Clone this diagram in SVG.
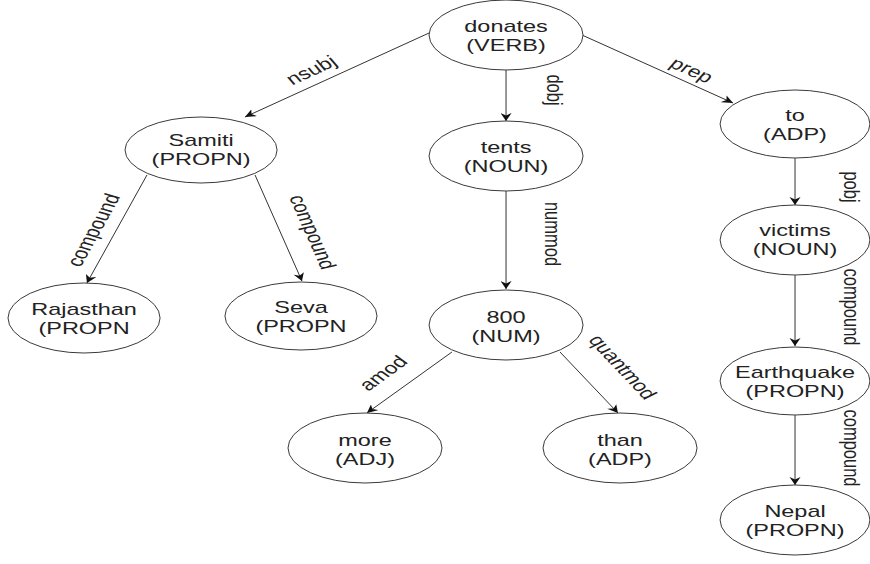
<svg xmlns="http://www.w3.org/2000/svg" width="870" height="564" viewBox="0 0 870 564">
<style>
.node ellipse{fill:#ffffff;stroke:#3a3a3a;stroke-width:1;vector-effect:non-scaling-stroke}
.node text{font-family:"Liberation Sans",Arial,sans-serif;font-size:17px;fill:#222;text-anchor:middle}
.edge line{stroke:#333;stroke-width:1;vector-effect:non-scaling-stroke;marker-end:url(#arr)}
.lbl{font-family:"Liberation Sans",Arial,sans-serif;font-size:16.5px;fill:#222;text-anchor:middle;dominant-baseline:central}
</style>
<defs>
<marker id="arr" viewBox="0 0 10 10" refX="10" refY="5" markerWidth="8" markerHeight="8" markerUnits="userSpaceOnUse" orient="auto">
<path d="M0,0 L10,5 L0,10 L3,5 z" fill="#111"/>
</marker>
</defs>
<rect width="870" height="564" fill="#ffffff"/>
<g transform="scale(1.38,1)">
<g id="connectors" class="edge">
<line x1="310.9" y1="33" x2="177.5" y2="117"/>
<line x1="366.7" y1="70" x2="366.7" y2="121"/>
<line x1="421.7" y1="35" x2="531.2" y2="103"/>
<line x1="106.5" y1="175" x2="63" y2="283"/>
<line x1="184.8" y1="175" x2="218.8" y2="281"/>
<line x1="366.7" y1="191" x2="366.7" y2="289"/>
<line x1="327.5" y1="352" x2="265.9" y2="413"/>
<line x1="405.8" y1="352" x2="447.8" y2="413"/>
<line x1="576.1" y1="158" x2="576.1" y2="205"/>
<line x1="576.1" y1="275" x2="576.1" y2="346"/>
<line x1="576.1" y1="415" x2="576.1" y2="485"/>
</g>
<g id="edge-labels">
<text class="lbl" transform="translate(225.4,70) rotate(-32.2)">nsubj</text>
<text class="lbl" transform="translate(402.2,90) rotate(90)">dobj</text>
<text class="lbl" transform="translate(501.4,70) rotate(31.8)">prep</text>
<text class="lbl" transform="translate(67.4,230) rotate(-67.9)">compound</text>
<text class="lbl" transform="translate(226.8,232) rotate(72)">compound</text>
<text class="lbl" transform="translate(400.7,234) rotate(90)">nummod</text>
<text class="lbl" transform="translate(277.5,373) rotate(-44.7)">amod</text>
<text class="lbl" transform="translate(451.4,367) rotate(55.5)">quantmod</text>
<text class="lbl" transform="translate(617.4,187) rotate(90)">pobj</text>
<text class="lbl" transform="translate(617.4,307) rotate(90)">compound</text>
<text class="lbl" transform="translate(617.4,448) rotate(90)">compound</text>
</g>
<g id="n-donates" class="node"><ellipse cx="366.7" cy="35" rx="55.8" ry="35"/><text x="366.7" y="32">donates</text><text x="366.7" y="51">(VERB)</text></g>
<g id="n-tents" class="node"><ellipse cx="366.7" cy="156" rx="55.8" ry="35"/><text x="366.7" y="153">tents</text><text x="366.7" y="172">(NOUN)</text></g>
<g id="n-samiti" class="node"><ellipse cx="145.7" cy="150" rx="55.1" ry="33"/><text x="145.7" y="146">Samiti</text><text x="145.7" y="165">(PROPN)</text></g>
<g id="n-rajasthan" class="node"><ellipse cx="60.9" cy="318" rx="55.1" ry="35"/><text x="60.9" y="315">Rajasthan</text><text x="60.9" y="334">(PROPN</text></g>
<g id="n-seva" class="node"><ellipse cx="218.1" cy="316" rx="55.1" ry="34"/><text x="218.1" y="313">Seva</text><text x="218.1" y="332">(PROPN</text></g>
<g id="n-800" class="node"><ellipse cx="366.7" cy="325" rx="55.8" ry="35"/><text x="366.7" y="323">800</text><text x="366.7" y="342">(NUM)</text></g>
<g id="n-more" class="node"><ellipse cx="264.5" cy="448" rx="55.8" ry="35"/><text x="264.5" y="446">more</text><text x="264.5" y="465">(ADJ)</text></g>
<g id="n-than" class="node"><ellipse cx="449.3" cy="448" rx="55.8" ry="35"/><text x="449.3" y="446">than</text><text x="449.3" y="465">(ADP)</text></g>
<g id="n-to" class="node"><ellipse cx="576.1" cy="124" rx="54.3" ry="34"/><text x="576.1" y="121">to</text><text x="576.1" y="140">(ADP)</text></g>
<g id="n-victims" class="node"><ellipse cx="576.1" cy="240" rx="54.3" ry="35"/><text x="576.1" y="236">victims</text><text x="576.1" y="255">(NOUN)</text></g>
<g id="n-earthquake" class="node"><ellipse cx="576.1" cy="381" rx="54.3" ry="34"/><text x="576.1" y="378">Earthquake</text><text x="576.1" y="397">(PROPN)</text></g>
<g id="n-nepal" class="node"><ellipse cx="576.1" cy="520" rx="54.3" ry="35"/><text x="576.1" y="517">Nepal</text><text x="576.1" y="536">(PROPN)</text></g>
</g>
</svg>
